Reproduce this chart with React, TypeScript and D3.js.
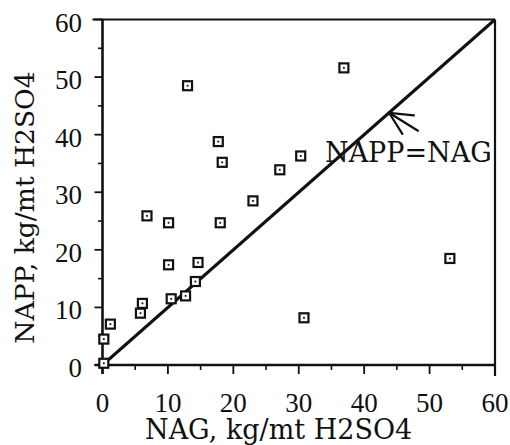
import React from "react";
import * as d3 from "d3";

// NAG vs NAPP, kg/mt H2SO4
const nag = [0.2, 0.2, 1.2, 5.8, 6.1, 6.8, 10.1, 10.1, 10.5, 12.7, 13.0, 14.2, 14.6, 17.7, 18.0, 18.3, 23.0, 27.1, 30.3, 30.8, 36.9, 53.1];
const napp = [0.3, 4.5, 7.1, 9.0, 10.7, 25.9, 24.7, 17.4, 11.5, 12.0, 48.5, 14.5, 17.8, 38.8, 24.7, 35.2, 28.5, 33.9, 36.3, 8.2, 51.6, 18.5];
const majorTicks = [0, 10, 20, 30, 40, 50, 60];
const minorTicks = [5, 15, 25, 35, 45, 55];
const identityLine = [0, 60];
const xTitle = "NAG, kg/mt H2SO4";
const yTitle = "NAPP, kg/mt H2SO4";
const lineLabel = "NAPP=NAG";
const arrowAt = 43.8;

const W = 510;
const H = 445;
const left = 102.5;
const right = 495;
const top = 19.5;
const bottom = 365;

const ink = "#111";
const titleFont = { fontFamily: "DejaVu Serif", fontSize: "27px" };
const numFont = { fontFamily: "Liberation Serif", fontSize: "27px" };

export default function App() {
  const x = d3.scaleLinear().domain([0, 60]).range([left, right]);
  const y = d3.scaleLinear().domain([0, 60]).range([bottom, top]);
  const line = d3.line<number>().x((d) => x(d)).y((d) => y(d));

  // arrow pointing onto the identity line
  const tipX = x(arrowAt);
  const tipY = y(arrowAt);
  const ang = Math.atan2(18, 29);
  const shaft = 34;
  const barb = 25;
  const spread = (26 * Math.PI) / 180;

  const sq = 9;

  return (
    <svg
      width={W}
      height={H}
      style={{ position: "absolute", left: 0, top: 0, background: "#fff" }}
    >
      {/* frame */}
      <line x1={x(0) - 10} x2={x(60)} y1={y(60)} y2={y(60)} stroke={ink} strokeWidth={2.2} />
      <line x1={x(60)} x2={x(60)} y1={y(60)} y2={y(0) + 11} stroke={ink} strokeWidth={2.2} />
      <line x1={x(0)} x2={x(0)} y1={y(60)} y2={y(0) + 9} stroke={ink} strokeWidth={2.6} />
      <line x1={x(0) - 8} x2={x(60)} y1={y(0)} y2={y(0)} stroke={ink} strokeWidth={2.6} />

      {/* y ticks */}
      {majorTicks.map((t) => (
        <line key={"ym" + t} x1={x(0) - 8} x2={x(0)} y1={y(t)} y2={y(t)} stroke={ink} strokeWidth={1.8} />
      ))}
      {minorTicks.map((t) => (
        <line key={"yn" + t} x1={x(0) - 4.5} x2={x(0)} y1={y(t)} y2={y(t)} stroke={ink} strokeWidth={1.6} />
      ))}
      {/* x ticks */}
      {majorTicks.map((t) => (
        <line key={"xm" + t} x1={x(t)} x2={x(t)} y1={y(0)} y2={y(0) + 9} stroke={ink} strokeWidth={1.8} />
      ))}
      {minorTicks.map((t) => (
        <line key={"xn" + t} x1={x(t)} x2={x(t)} y1={y(0)} y2={y(0) + 5} stroke={ink} strokeWidth={1.6} />
      ))}

      {/* tick labels */}
      {majorTicks.map((t) => (
        <text key={"yl" + t} x={82} y={y(t) + 12} textAnchor="end" style={numFont} fill={ink}>
          {t}
        </text>
      ))}
      {majorTicks.map((t) => (
        <text key={"xl" + t} x={x(t)} y={412} textAnchor="middle" style={numFont} fill={ink}>
          {t}
        </text>
      ))}

      {/* axis titles */}
      <text x={145} y={439} style={titleFont} fill={ink}>
        {xTitle}
      </text>
      <text
        transform={`translate(33.5, 207.5) rotate(-90)`}
        textAnchor="middle"
        style={{ ...titleFont, fontSize: "26.5px" }}
        fill={ink}
      >
        {yTitle}
      </text>

      {/* identity line */}
      <path d={line(identityLine) || ""} fill="none" stroke={ink} strokeWidth={3} />

      {/* annotation */}
      <text x={325} y={161.7} style={titleFont} fill={ink}>
        {lineLabel}
      </text>
      <g stroke={ink} strokeWidth={2.2} strokeLinecap="round">
        <line x1={tipX} y1={tipY} x2={tipX + shaft * Math.cos(ang)} y2={tipY + shaft * Math.sin(ang)} />
        <line x1={tipX} y1={tipY} x2={tipX + barb * Math.cos(ang - spread)} y2={tipY + barb * Math.sin(ang - spread)} />
        <line x1={tipX} y1={tipY} x2={tipX + barb * Math.cos(ang + spread)} y2={tipY + barb * Math.sin(ang + spread)} />
      </g>

      {/* data points: open squares with centre dot */}
      {nag.map((v, i) => (
        <g key={"p" + i} transform={`translate(${x(v)}, ${y(napp[i])})`}>
          <rect x={-sq / 2} y={-sq / 2} width={sq} height={sq} fill="#fff" stroke={ink} strokeWidth={2.2} />
          <rect x={-0.9} y={-0.9} width={1.8} height={1.8} fill={ink} />
        </g>
      ))}
    </svg>
  );
}
